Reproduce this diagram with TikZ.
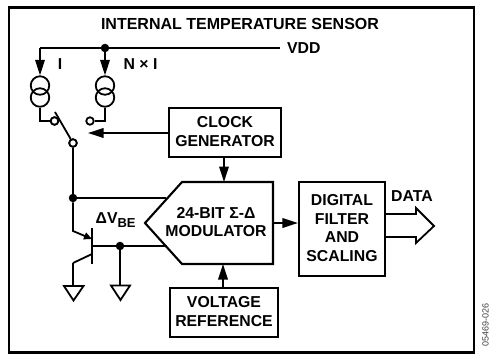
\documentclass[tikz,border=0pt]{standalone}
\usepackage{fontspec}
\setmainfont{Liberation Sans}
\usetikzlibrary{arrows.meta, positioning}
\tikzset{
  wire/.style={line width=1.8pt},
  flowarrow/.style={wire, -{Triangle[length=15.5pt, width=9.5pt]}},
  blockbox/.style={draw, line width=2.1pt, align=center, inner sep=0pt, text depth=2pt,
                   font=\fontsize{15.8}{18.6}\selectfont\bfseries},
  blocklabel/.style={align=center, inner sep=0pt, font=\fontsize{15.8}{18.6}\selectfont\bfseries},
  junction/.style={circle, fill, inner sep=0pt, minimum size=8.5pt},
  contact/.style={circle, draw, line width=1.8pt, fill=white, inner sep=0pt, minimum size=7.5pt},
  sourcering/.style={circle, draw, line width=1.8pt, inner sep=0pt, minimum size=18.5pt},
  groundsym/.style={wire, line join=miter},
}

\begin{document}
\begin{tikzpicture}[x=1pt, y=-1pt]
\useasboundingbox (0,0) rectangle (490,354);

% Outer frame
\node[draw, line width=2.8pt, minimum width=465pt, minimum height=345pt, inner sep=0pt] (frame) at (241.5,180) {};
\node[blocklabel, font=\fontsize{16}{18.6}\selectfont\bfseries] (title) at (240,24) {INTERNAL TEMPERATURE SENSOR};

% Supply rail
\coordinate (railleft) at (40,48);
\node[junction] (raildot) at (105,48) {};
\coordinate (railright) at (280,48);
\node[blocklabel, anchor=west] (vdd) at (287,48) {VDD};
\draw[wire] (railleft) -- (railright);

% Current sources
\node[sourcering] (srcItop) at (40,85.5) {};
\node[sourcering] (srcIbot) at (40,97.5) {};
\node[sourcering] (srcNtop) at (105,85.5) {};
\node[sourcering] (srcNbot) at (105,97.5) {};
\node[blocklabel] (labelI) at (60,64) {I};
\node[blocklabel] (labelN) at (140.5,64) {N × I};
\draw[flowarrow] (railleft) -- (srcItop.north);
\draw[flowarrow] (raildot) -- (srcNtop.north);

% Switch
\node[contact] (contactI) at (54.5,121) {};
\node[contact] (contactN) at (90,121) {};
\node[contact] (contactC) at (73,143) {};
\coordinate (bladeend) at (55,112);
\draw[wire] (srcIbot.south) |- (contactI.west);
\draw[wire] (srcNbot.south) |- (contactN.east);
\draw[wire] (bladeend) -- (contactC);
\node[contact] at (contactC) {};
\node[contact] at (contactI) {};

% Blocks
\node[blockbox, minimum width=112pt, minimum height=49pt] (clock) at (225,132.5) {CLOCK\\GENERATOR};
\node[blockbox, minimum width=108pt, minimum height=49pt] (vref) at (224,312.5) {VOLTAGE\\REFERENCE};
\node[blockbox, minimum width=86pt, minimum height=94pt] (digital) at (342,229) {DIGITAL\\FILTER\\AND\\SCALING};

% Modulator
\coordinate (modtip) at (145,223);
\coordinate (modtl) at (182,182);
\coordinate (modtr) at (273,182);
\coordinate (modbr) at (273,264);
\coordinate (modbl) at (182,264);
\coordinate (modclk) at (224,182);
\coordinate (modref) at (223,264);
\coordinate (modout) at (273,223);
\coordinate (modinp) at (166,198);
\coordinate (modinn) at (167,246);
\draw[line width=2.1pt, line join=miter] (modtip) -- (modtl) -- (modtr) -- (modbr) -- (modbl) -- cycle;
\node[blocklabel] (modlabel) at (216,222) {24-BIT Σ-Δ\\MODULATOR};

% Transistor
\node[junction] (topdot) at (73,198) {};
\node[junction] (basedot) at (120,246) {};
\coordinate (barup) at (92,228);
\coordinate (bardown) at (92,264);
\coordinate (barmid) at (92,246);
\coordinate (kneeup) at (73,231);
\coordinate (kneedown) at (73,263);
\coordinate (barin) at (92,239);
\coordinate (barout) at (92,254);
\draw[wire] (barup) -- (bardown);
\draw[wire] (contactC) -- (topdot);
\draw[wire] (topdot) -- (modinp);
\draw[wire, -{Triangle[length=8pt, width=7pt]}] (topdot) -- (kneeup) -- (barin);
\draw[wire] (barmid) -- (modinn);
\draw[wire] (barout) -- (kneedown);
\node[blocklabel, anchor=west] (vbe) at (95.5,220) {ΔV\raisebox{-3.5pt}{\fontsize{13}{13}\selectfont BE}};

% Grounds
\coordinate (gndA) at (73,286);
\coordinate (gndB) at (120,286);
\draw[wire] (kneedown) -- (gndA);
\draw[wire] (basedot) -- (gndB);
\draw[groundsym] (64,286) -- (83.5,286) -- (73.5,300.5) -- cycle;
\draw[groundsym] (111,285.5) -- (130,285.5) -- (120.5,300) -- cycle;

% Arrows between blocks
\coordinate (swtarget) at (88,133);
\draw[flowarrow] (clock.west |- swtarget) -- (swtarget);
\draw[flowarrow] (clock.south -| modclk) -- (modclk);
\draw[flowarrow] (vref.north -| modref) -- (modref);
\draw[flowarrow] (modout) -- (digital.west |- modout);

% Data output
\coordinate (dataup) at (385,214);
\coordinate (datadown) at (385,237);
\draw[wire, line join=miter] (dataup) -- (416,214) -- (416,208) -- (434,226) -- (416,243) -- (416,237) -- (datadown);
\node[blocklabel] (datalabel) at (412,196) {DATA};

% Figure number
\node[rotate=90, inner sep=0pt, text=black!75, font=\fontsize{9}{11}\selectfont, anchor=east] (figno) at (485.5,303) {05469-026};

\end{tikzpicture}
\end{document}
